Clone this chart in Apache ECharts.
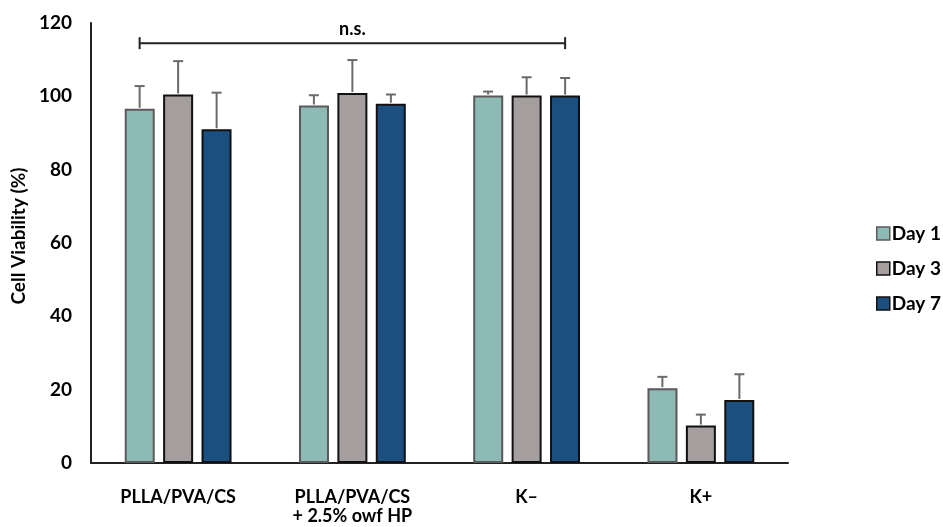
<!DOCTYPE html>
<html><head><meta charset="utf-8">
<script src="https://cdn.jsdelivr.net/npm/echarts@6/dist/echarts.min.js"></script>
<style>html,body{margin:0;padding:0;background:#fff}#c{width:943px;height:527px}</style>
</head><body><div id="c"></div>
<script>
const categories = ['PLLA/PVA/CS', 'PLLA/PVA/CS\n+ 2.5% owf HP', 'K\u2013', 'K+'];
const seriesNames = ['Day 1', 'Day 3', 'Day 7'];
const day1 = [96.6, 97.5, 100.2, 20.4];
const day3 = [100.5, 100.9, 100.2, 10.2];
const day7 = [91.0, 98.0, 100.2, 17.2];
const err1 = [6.2, 2.8, 1.1, 3.1];
const err3 = [9.1, 9.0, 5.0, 3.0];
const err7 = [10.0, 2.5, 4.8, 7.0];
const yTicks = [0, 20, 40, 60, 80, 100, 120];
const bracket = { from: 0, to: 2, level: 114.5, label: 'n.s.' };

const values = [day1, day3, day7];
const errs = [err1, err3, err7];
const colors = ['#8dbab5', '#a49e9e', '#1b4f80'];
const borders = ['#5a5a5a', '#111111', '#111111'];
const FONT = 'Lato';
const BW = 30, STEP = 38.5;

const chart = echarts.init(document.getElementById('c'));
const series = [];
seriesNames.forEach((n, i) => {
  series.push({
    name: n, type: 'bar', data: values[i], barWidth: BW, barGap: '28%',
    itemStyle: { color: colors[i], borderColor: borders[i], borderWidth: 2 },
    z: 2
  });
});
seriesNames.forEach((n, i) => {
  series.push({
    type: 'custom', z: 3, silent: true,
    data: values[i].map((v, k) => [k, v, v + errs[i][k]]),
    renderItem: function (params, api) {
      const base = api.coord([api.value(0), api.value(1)]);
      const top = api.coord([api.value(0), api.value(2)]);
      const x = base[0] + (i - 1) * STEP;
      const st = { stroke: '#6a6a6a', lineWidth: 2 };
      return { type: 'group', children: [
        { type: 'line', shape: { x1: x, y1: base[1] - 1, x2: x, y2: top[1] }, style: st },
        { type: 'line', shape: { x1: x - 5, y1: top[1], x2: x + 5, y2: top[1] }, style: st }
      ]};
    }
  });
});

chart.setOption({
  animation: false,
  grid: { left: 91, right: 155, top: 23, bottom: 64, containLabel: false },
  legend: {
    data: seriesNames.map((n, i) => ({ name: n, itemStyle: { color: colors[i], borderColor: borders[i], borderWidth: 1.5 } })),
    orient: 'vertical', left: 871, top: 219, itemWidth: 13, itemHeight: 13, itemGap: 16,
    icon: 'rect',
    textStyle: { fontFamily: FONT, fontWeight: 'bold', fontSize: 19, color: '#000', padding: [0, 0, 0, -3] }
  },
  xAxis: {
    type: 'category', data: categories,
    axisLine: { lineStyle: { color: '#222', width: 2 } },
    axisTick: { show: false },
    axisLabel: { fontFamily: FONT, fontWeight: 'bold', fontSize: 18, color: '#000', margin: 25, lineHeight: 19, interval: 0 }
  },
  yAxis: {
    type: 'value', min: yTicks[0], max: yTicks[yTicks.length - 1], interval: 20,
    name: 'Cell Viability (%)', nameLocation: 'middle', nameGap: 61, nameRotate: 90,
    nameTextStyle: { fontFamily: FONT, fontWeight: 'bold', fontSize: 19, color: '#000', padding: [0, 0, 0, 14] },
    axisLine: { show: true, lineStyle: { color: '#222', width: 2 } },
    axisTick: { show: false },
    splitLine: { show: false },
    axisLabel: { fontFamily: FONT, fontWeight: 'bold', fontSize: 19, color: '#000', margin: 19 }
  },
  series: series
});

function drawBracket() {
  const p1 = chart.convertToPixel({ xAxisIndex: 0, yAxisIndex: 0 }, [bracket.from, bracket.level]);
  const p2 = chart.convertToPixel({ xAxisIndex: 0, yAxisIndex: 0 }, [bracket.to, bracket.level]);
  const x1 = p1[0] - STEP, x2 = p2[0] + STEP, y = p1[1];
  const st = { stroke: '#222', lineWidth: 2 };
  chart.setOption({ graphic: [
    { type: 'line', shape: { x1: x1, y1: y, x2: x2, y2: y }, style: st },
    { type: 'line', shape: { x1: x1, y1: y - 6, x2: x1, y2: y + 6 }, style: st },
    { type: 'line', shape: { x1: x2, y1: y - 6, x2: x2, y2: y + 6 }, style: st },
    { type: 'text', x: (x1 + x2) / 2, y: y - 14, style: { text: bracket.label, fontFamily: FONT, fontWeight: 'bold', fontSize: 18, fill: '#000', align: 'center', verticalAlign: 'middle' } }
  ]});
}
drawBracket();
</script></body></html>
